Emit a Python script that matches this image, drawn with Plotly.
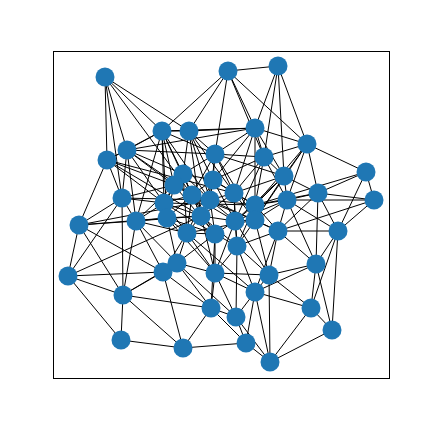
import plotly.graph_objects as go

# node positions (pixel-like units, y downwards)
node_x = [105, 228, 278, 162, 189, 255, 107, 127, 215, 264, 307, 366, 374, 183, 174, 213, 284,
          318, 122, 164, 192, 210, 234, 255, 287, 79, 136, 167, 201, 235, 255, 278, 338, 187,
          215, 237, 68, 163, 177, 215, 269, 316, 255, 123, 211, 236, 311, 332, 121, 183, 246, 270]
node_y = [77, 71, 66, 131, 131, 128, 160, 150, 154, 157, 144, 172, 200, 174, 185, 180, 176,
          193, 198, 203, 195, 200, 193, 205, 200, 225, 221, 218, 216, 221, 220, 231, 231, 233,
          234, 246, 276, 272, 263, 273, 275, 264, 292, 295, 308, 317, 308, 330, 340, 348, 343, 362]

adjacency = {
    1: [4, 7, 8, 5, 19, 21], 2: [3, 5, 9, 6, 10, 11, 4], 3: [6, 10, 11, 17],
    4: [5, 7, 8, 14, 15, 20, 21, 9, 28, 27, 6, 22], 5: [9, 14, 16, 6, 22, 29, 23],
    6: [10, 11, 9, 17, 23, 24, 16, 8], 7: [8, 19, 26, 20, 15, 29, 23], 8: [14, 15, 19, 20, 27, 21, 9],
    9: [10, 16, 14, 22, 23, 17, 21, 31], 10: [11, 17, 23, 24, 25, 16, 30], 11: [12, 17, 18, 25, 24, 31],
    12: [13, 18, 33, 24], 13: [18, 33, 25, 32], 14: [15, 16, 21, 22, 20, 29, 34],
    15: [20, 21, 28, 27, 19, 30, 35], 16: [22, 23, 21, 29, 30, 34, 24], 17: [18, 25, 24, 31, 23, 30],
    18: [25, 33, 32, 42, 24], 19: [26, 27, 20, 37, 44, 22], 20: [21, 27, 28, 29, 34, 35, 24],
    21: [22, 29, 28, 34, 35, 31], 22: [23, 29, 30, 35, 24, 26, 32], 23: [24, 30, 31, 36, 29],
    24: [25, 31, 30, 32, 36], 25: [32, 33, 31, 42, 30], 26: [27, 37, 44, 38, 28],
    27: [28, 34, 38, 44, 39, 29], 28: [29, 34, 39, 35, 40], 29: [30, 35, 34, 40, 37, 36],
    30: [31, 35, 36, 41, 40], 31: [32, 36, 41, 34], 32: [33, 41, 42, 43, 36], 33: [42, 47, 48],
    34: [35, 39, 40, 38, 43], 35: [36, 40, 45, 39], 36: [41, 43, 40, 46], 37: [44, 49, 38],
    38: [39, 44, 45, 50], 39: [40, 45, 44, 46], 40: [41, 45, 46, 43], 41: [42, 43, 47, 52],
    42: [47, 48, 43], 43: [46, 51, 47, 52], 44: [49, 50, 45], 45: [46, 50, 51],
    46: [51, 52], 47: [48, 52], 48: [52], 49: [50], 50: [51], 51: [52],
}

ex, ey = [], []
for a, nbrs in adjacency.items():
    for b in nbrs:
        ex += [node_x[a - 1], node_x[b - 1], None]
        ey += [node_y[a - 1], node_y[b - 1], None]

fig = go.Figure()
fig.add_trace(go.Scatter(x=ex, y=ey, mode='lines', line=dict(color='black', width=1),
                         hoverinfo='skip', showlegend=False))
fig.add_trace(go.Scatter(x=node_x, y=node_y, mode='markers',
                         marker=dict(color='#1f77b4', size=19, line=dict(width=0)),
                         showlegend=False))

axis = dict(showgrid=False, zeroline=False, showticklabels=False, ticks='',
            showline=True, linecolor='black', linewidth=1, mirror=True)
fig.update_layout(
    width=432, height=432,
    margin=dict(l=46, r=51, t=44, b=62),
    plot_bgcolor='white', paper_bgcolor='white',
    xaxis=dict(range=[54, 389], **axis),
    yaxis=dict(range=[378, 52], **axis),
)
fig.write_html("out.html")
